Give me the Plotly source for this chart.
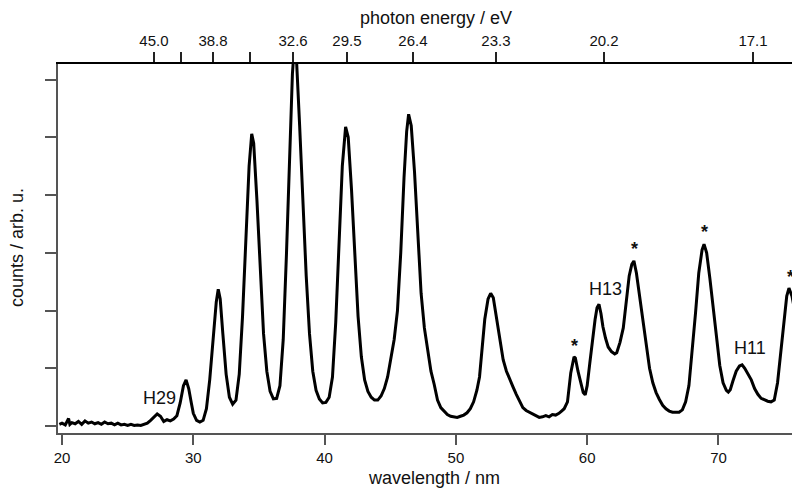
import plotly.graph_objects as go

# ---- data ----
wavelength_nm = [
    19.8, 20.0, 20.25, 20.5, 20.6, 20.75, 21.0, 21.25, 21.5, 21.75, 22.0, 22.25, 22.5, 22.75,
    23.0, 23.25, 23.5, 23.75, 24.0, 24.25, 24.5, 24.75, 25.0, 25.25, 25.5, 25.75, 26.0, 26.25,
    26.5, 26.75, 27.0, 27.25, 27.5, 27.75, 28.0, 28.25, 28.5, 28.75, 29.0, 29.25, 29.45, 29.65,
    29.85, 30.0, 30.25, 30.5, 30.75, 31.0, 31.25, 31.5, 31.75, 31.9, 32.05, 32.25, 32.5, 32.75,
    33.0, 33.25, 33.5, 33.75, 34.0, 34.25, 34.45, 34.6, 34.85, 35.1, 35.35, 35.6, 35.85, 36.1,
    36.35, 36.6, 36.85, 37.1, 37.35, 37.55, 37.7, 37.85, 38.1, 38.35, 38.6, 38.85, 39.1, 39.35,
    39.6, 39.85, 40.1, 40.35, 40.6, 40.85, 41.1, 41.35, 41.6, 41.8, 42.05, 42.3, 42.55, 42.8,
    43.05, 43.3, 43.55, 43.8, 44.05, 44.3, 44.55, 44.8, 45.05, 45.3, 45.55, 45.8, 46.05, 46.25,
    46.4, 46.6, 46.85, 47.1, 47.35, 47.6, 47.85, 48.1, 48.35, 48.6, 48.85, 49.1, 49.35, 49.6,
    49.85, 50.1, 50.35, 50.6, 50.85, 51.1, 51.35, 51.6, 51.8, 52.0, 52.2, 52.45, 52.65, 52.85,
    53.1, 53.35, 53.6, 53.85, 54.1, 54.35, 54.6, 54.85, 55.1, 55.35, 55.6, 55.85, 56.1, 56.35,
    56.6, 56.85, 57.1, 57.35, 57.6, 57.85, 58.05, 58.25, 58.5, 58.75, 59.0, 59.1, 59.3, 59.5,
    59.7, 59.85, 60.0, 60.2, 60.4, 60.6, 60.75, 60.9, 61.05, 61.2, 61.4, 61.6, 61.85, 62.1,
    62.25, 62.5, 62.75, 63.0, 63.2, 63.4, 63.56, 63.75, 64.0, 64.25, 64.5, 64.75, 65.0, 65.25,
    65.5, 65.75, 66.0, 66.25, 66.5, 66.75, 67.0, 67.25, 67.5, 67.75, 68.0, 68.25, 68.5, 68.75,
    68.9, 69.1, 69.35, 69.6, 69.85, 70.1, 70.35, 70.6, 70.75, 70.9, 71.1, 71.35, 71.6, 71.8,
    72.0, 72.25, 72.5, 72.75, 73.0, 73.25, 73.5, 73.75, 74.0, 74.25, 74.5, 74.75, 75.0, 75.2,
    75.37, 75.6, 75.85, 76.1, 76.3,
]
counts = [
    0.03, 0.05, 0.02, 0.13, 0.03, 0.06, 0.04, 0.08, 0.03, 0.09, 0.05, 0.07, 0.04, 0.06,
    0.03, 0.07, 0.04, 0.05, 0.02, 0.05, 0.02, 0.03, 0.01, 0.03, 0.01, 0.02, 0.01, 0.03,
    0.05, 0.10, 0.16, 0.21, 0.17, 0.08, 0.11, 0.09, 0.12, 0.18, 0.40, 0.70, 0.80, 0.65,
    0.40, 0.22, 0.10, 0.07, 0.10, 0.30, 0.80, 1.50, 2.15, 2.37, 2.20, 1.60, 0.90, 0.50,
    0.38, 0.45, 0.90, 1.90, 3.20, 4.50, 5.06, 4.90, 3.90, 2.70, 1.60, 0.95, 0.60, 0.47,
    0.48, 0.70, 1.50, 3.00, 4.80, 6.10, 6.60, 6.40, 5.20, 3.80, 2.60, 1.60, 0.95, 0.62,
    0.47, 0.40, 0.41, 0.50, 0.85, 1.80, 3.20, 4.50, 5.18, 5.00, 4.10, 2.90, 1.90, 1.20,
    0.80, 0.60, 0.50, 0.45, 0.45, 0.52, 0.65, 0.85, 1.20, 1.50, 2.00, 3.00, 4.30, 5.10,
    5.40, 5.20, 4.40, 3.30, 2.30, 1.70, 1.30, 0.95, 0.72, 0.45, 0.32, 0.25, 0.20, 0.17,
    0.16, 0.15, 0.17, 0.19, 0.23, 0.30, 0.42, 0.62, 0.85, 1.35, 1.85, 2.20, 2.30, 2.22,
    1.85, 1.45, 1.15, 0.95, 0.80, 0.68, 0.55, 0.42, 0.32, 0.27, 0.24, 0.20, 0.18, 0.15,
    0.16, 0.18, 0.16, 0.20, 0.19, 0.22, 0.26, 0.30, 0.42, 0.92, 1.20, 1.18, 0.95, 0.75,
    0.58, 0.54, 0.70, 1.09, 1.50, 1.84, 2.05, 2.11, 1.95, 1.72, 1.52, 1.37, 1.29, 1.25,
    1.27, 1.45, 1.70, 2.25, 2.60, 2.80, 2.86, 2.65, 2.24, 1.80, 1.35, 1.00, 0.75, 0.58,
    0.46, 0.36, 0.30, 0.26, 0.24, 0.24, 0.24, 0.28, 0.42, 0.70, 1.30, 1.95, 2.65, 3.05,
    3.15, 3.00, 2.55, 2.05, 1.55, 1.05, 0.75, 0.62, 0.59, 0.63, 0.78, 0.95, 1.04, 1.06,
    1.00, 0.90, 0.80, 0.65, 0.55, 0.48, 0.45, 0.43, 0.42, 0.45, 0.75, 1.30, 1.85, 2.25,
    2.39, 2.25, 1.95, 1.70, 1.45,
]

bottom_ticks = [20, 30, 40, 50, 60, 70]
bottom_tick_labels = ["20", "30", "40", "50", "60", "70"]
top_tick_positions_nm = [27.0, 29.06, 31.5, 34.3, 37.6, 41.7, 46.73, 53.05, 61.28, 72.63]
top_tick_labels = ["45.0", "", "38.8", "", "32.6", "29.5", "26.4", "23.3", "20.2", "17.1"]
y_ticks = [0, 1, 2, 3, 4, 5, 6]

harmonic_labels = ["H29", "H13", "H11"]
harmonic_label_x = [27.46, 61.36, 72.4]
harmonic_label_y = [0.49, 2.37, 1.35]
star_x = [59.07, 63.64, 68.9, 75.52]
star_y = [1.46, 3.14, 3.43, 2.65]

x_range = [19.695, 76.21]
y_range = [-0.12, 6.27]

FONT = "Liberation Sans, Arial, sans-serif"
TXT = "#111111"

fig = go.Figure()
fig.add_trace(go.Scatter(x=wavelength_nm, y=counts, mode="lines",
                         line=dict(color="black", width=3), hoverinfo="skip",
                         showlegend=False))
# invisible trace so the top (photon energy) axis is drawn
fig.add_trace(go.Scatter(x=wavelength_nm, y=counts, mode="lines", xaxis="x2",
                         line=dict(color="rgba(0,0,0,0)", width=0), hoverinfo="skip",
                         showlegend=False))

for t, x, y in zip(harmonic_labels, harmonic_label_x, harmonic_label_y):
    fig.add_annotation(x=x, y=y, xref="x", yref="y", text=t, showarrow=False,
                       font=dict(family=FONT, size=18, color=TXT))
for x, y in zip(star_x, star_y):
    fig.add_annotation(x=x, y=y, xref="x", yref="y", text="<b>*</b>", showarrow=False,
                       yshift=-4, font=dict(family=FONT, size=18, color=TXT))

# axis titles as annotations (paper coords relative to plot area)
fig.add_annotation(x=0.507, y=-0.122, xref="paper", yref="paper", text="wavelength / nm",
                   xanchor="center", yanchor="middle",
                   showarrow=False, font=dict(family=FONT, size=18, color=TXT))
fig.add_annotation(x=0.509, y=1.125, xref="paper", yref="paper", text="photon energy / eV",
                   xanchor="center", yanchor="middle",
                   showarrow=False, font=dict(family=FONT, size=18, color=TXT))
fig.add_annotation(x=-0.0553, y=0.504, xref="paper", yref="paper", text="counts / arb. u.",
                   xanchor="center", yanchor="middle",
                   textangle=-90, showarrow=False, font=dict(family=FONT, size=18, color=TXT))

# the page places the figure 8 px from the top-left corner, so the figure is
# 792 x 481 and its margins are reduced by those 8 px
fig.update_layout(
    width=792, height=481,
    margin=dict(l=50, r=0, t=56, b=56, autoexpand=False),
    paper_bgcolor="white", plot_bgcolor="white",
    font=dict(family=FONT, size=15, color=TXT),
    showlegend=False,
    xaxis=dict(range=x_range, tickvals=bottom_ticks, ticktext=bottom_tick_labels,
               ticks="outside", ticklen=10, tickwidth=1.5, tickcolor="#555",
               showline=True, linecolor="#555", linewidth=2, showgrid=False, zeroline=False,
               tickfont=dict(size=15, color=TXT), automargin=False),
    xaxis2=dict(range=x_range, overlaying="x", side="top", anchor="y",
                tickvals=top_tick_positions_nm, ticktext=top_tick_labels,
                ticks="outside", ticklen=10, tickwidth=1.5, tickcolor="#222",
                showline=True, linecolor="black", linewidth=2, showgrid=False, zeroline=False,
                tickfont=dict(size=15, color=TXT), automargin=False),
    yaxis=dict(range=y_range, tickvals=y_ticks, showticklabels=False,
               ticks="outside", ticklen=11, tickwidth=1.5, tickcolor="#555",
               showline=True, linecolor="#555", linewidth=2, showgrid=False, zeroline=False,
               automargin=False),
)

fig.write_html("out.html")
